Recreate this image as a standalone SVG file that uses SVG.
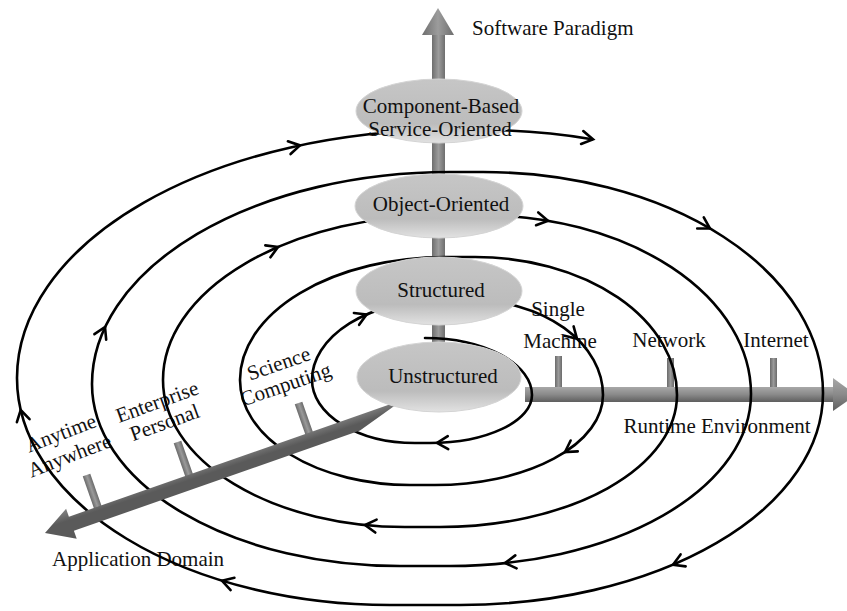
<svg xmlns="http://www.w3.org/2000/svg" xmlns:xlink="http://www.w3.org/1999/xlink" width="847" height="611" viewBox="0 0 847 611">
<style>
  .lbl { font-family: "Liberation Serif", "Times New Roman", serif; font-size: 21px; fill: #111; }
  .ell { fill: url(#ellG); stroke: #d4d4d4; stroke-width: 1; }
  .spiral { fill: none; stroke: #000; stroke-width: 2.6; stroke-linecap: round; stroke-linejoin: round; }
  .ah { fill: none; stroke: #000; stroke-width: 2.6; stroke-linecap: round; stroke-linejoin: miter; }
</style>
<defs>
  <linearGradient id="ellG" x1="0" y1="0" x2="0" y2="1">
    <stop offset="0" stop-color="#c6c6c6"/>
    <stop offset="0.7" stop-color="#bcbcbc"/>
    <stop offset="1" stop-color="#e2e2e2"/>
  </linearGradient>
  <linearGradient id="vShaft" x1="0" y1="0" x2="1" y2="0">
    <stop offset="0" stop-color="#6e6e6e"/>
    <stop offset="0.5" stop-color="#9c9c9c"/>
    <stop offset="1" stop-color="#6e6e6e"/>
  </linearGradient>
  <linearGradient id="hBar" x1="0" y1="0" x2="0" y2="1">
    <stop offset="0" stop-color="#a8a8a8"/>
    <stop offset="0.5" stop-color="#8a8a8a"/>
    <stop offset="1" stop-color="#5e5e5e"/>
  </linearGradient>
  <linearGradient id="tick" x1="0" y1="0" x2="1" y2="0">
    <stop offset="0" stop-color="#6a6a6a"/>
    <stop offset="0.5" stop-color="#9a9a9a"/>
    <stop offset="1" stop-color="#6a6a6a"/>
  </linearGradient>
  <linearGradient id="aBar" gradientUnits="userSpaceOnUse" x1="220" y1="450" x2="226" y2="468">
    <stop offset="0" stop-color="#9e9e9e"/>
    <stop offset="1" stop-color="#5a5a5a"/>
  </linearGradient>
  <path id="chev" class="ah" d="M-11,-6.5 L0,0 L-11,6.5"/>
</defs>

<!-- Software paradigm vertical arrow -->
<g id="paradigm-axis">
  <rect x="432" y="32" width="13" height="340" fill="url(#vShaft)"/>
  <polygon points="422,35 438,8 454,35" fill="url(#vShaft)"/>
</g>

<!-- Runtime environment axis -->
<g id="runtime-axis">
  <rect x="555" y="356" width="7" height="33" fill="url(#tick)"/>
  <rect x="667" y="358" width="7" height="31" fill="url(#tick)"/>
  <rect x="770" y="358" width="7" height="31" fill="url(#tick)"/>
  <rect x="525" y="387" width="310" height="15" fill="url(#hBar)"/>
  <polygon points="833,378 856,395 833,411" fill="url(#hBar)"/>
</g>

<!-- Labels -->
<g id="labels">
  <text class="lbl" x="472" y="35">Software Paradigm</text>
  <text class="lbl" x="558" y="316" text-anchor="middle">Single</text>
  <text class="lbl" x="560" y="348" text-anchor="middle">Machine</text>
  <text class="lbl" x="669" y="347" text-anchor="middle">Network</text>
  <text class="lbl" x="776" y="347" text-anchor="middle">Internet</text>
  <text class="lbl" x="717" y="433" text-anchor="middle">Runtime Environment</text>
  <text class="lbl" x="52" y="566">Application Domain</text>
  <text class="lbl" text-anchor="middle" transform="translate(288,391) rotate(-19)"><tspan x="0" y="-22">Science</tspan><tspan x="0" y="0">Computing</tspan></text>
  <text class="lbl" text-anchor="middle" transform="translate(167,429) rotate(-20)"><tspan x="0" y="-22">Enterprise</tspan><tspan x="0" y="0">Personal</tspan></text>
  <text class="lbl" text-anchor="middle" transform="translate(72,462) rotate(-21)"><tspan x="0" y="-24">Anytime</tspan><tspan x="0" y="0">Anywhere</tspan></text>
</g>

<!-- Spiral connector -->
<g id="connectors">
  <path class="spiral" d="M 425 338
    A 107 57 0 0 1 532 395
    A 102 48 0 0 1 430 443
    L 415 443
    A 103 63 0 0 1 312 380
    A 128 80 0 0 1 440 300
    L 470 300
    A 133 95 0 0 1 603 395
    A 168 90 0 0 1 435 485
    L 410 485
    A 170 105 0 0 1 240 380
    A 205 123 0 0 1 445 257
    L 475 257
    A 202 138 0 0 1 677 395
    A 237 132 0 0 1 440 527
    L 405 527
    A 242 147 0 0 1 163 380
    A 282 165 0 0 1 445 215
    L 480 215
    A 271 179 0 0 1 751 394
    A 301 172 0 0 1 450 566
    L 400 566
    A 308 182 0 0 1 92 384
    A 358 212 0 0 1 450 172
    L 483 172
    A 340 221 0 0 1 823 393
    A 363 212 0 0 1 460 605
    L 390 605
    A 373 227 0 0 1 17 378
    A 433 248 0 0 1 450 130
    L 483 130
    A 414 262 0 0 1 592 139.2"/>
  <use xlink:href="#chev" transform="translate(366.6,314.5) rotate(-23.6)"/>
  <use xlink:href="#chev" transform="translate(437,443) rotate(178)"/>
  <use xlink:href="#chev" transform="translate(577,338.7) rotate(44)"/>
  <use xlink:href="#chev" transform="translate(565,452) rotate(146.8)"/>
  <use xlink:href="#chev" transform="translate(278,247) rotate(-23.3)"/>
  <use xlink:href="#chev" transform="translate(365,525) rotate(185.8)"/>
  <use xlink:href="#chev" transform="translate(548,220.7) rotate(9.7)"/>
  <use xlink:href="#chev" transform="translate(105,327) rotate(-64.7)"/>
  <use xlink:href="#chev" transform="translate(505,563) rotate(174)"/>
  <use xlink:href="#chev" transform="translate(300,145.4) rotate(-11.9)"/>
  <use xlink:href="#chev" transform="translate(710,228.5) rotate(30.3)"/>
  <use xlink:href="#chev" transform="translate(673,564.7) rotate(157)"/>
  <use xlink:href="#chev" transform="translate(222,580.7) rotate(197)"/>
  <use xlink:href="#chev" transform="translate(20.7,410) rotate(-103.2)"/>
  <use xlink:href="#chev" transform="translate(593,139.4) rotate(9.9)"/>
</g>

<!-- Application domain axis -->
<g id="application-axis">
  <rect x="-4" y="-31.4" width="8" height="35" fill="url(#tick)" transform="translate(308.9,432.6) rotate(-19.3)"/>
  <rect x="-4" y="-34.6" width="8" height="38" fill="url(#tick)" transform="translate(188.9,474.7) rotate(-19.3)"/>
  <rect x="-4" y="-33.6" width="8" height="37" fill="url(#tick)" transform="translate(97.6,506.7) rotate(-19.3)"/>
  <polygon points="45,533 66.1,508.65 68.9,516.7 403,399.7 360,430.6 73.9,530.8 76.7,538.85" fill="url(#aBar)"/>
</g>

<!-- Paradigm nodes -->
<g id="node-component">
  <ellipse class="ell" cx="439" cy="111" rx="83" ry="32"/>
  <text class="lbl" x="441" y="113" text-anchor="middle">Component-Based</text>
  <text class="lbl" x="440" y="136" text-anchor="middle">Service-Oriented</text>
</g>
<g id="node-object">
  <ellipse class="ell" cx="439" cy="206" rx="84" ry="32"/>
  <text class="lbl" x="441" y="211" text-anchor="middle">Object-Oriented</text>
</g>
<g id="node-structured">
  <ellipse class="ell" cx="439" cy="291" rx="83" ry="34"/>
  <text class="lbl" x="441" y="297" text-anchor="middle">Structured</text>
</g>
<g id="node-unstructured">
  <ellipse class="ell" cx="439" cy="377" rx="82" ry="35"/>
  <text class="lbl" x="443" y="383" text-anchor="middle">Unstructured</text>
</g>
</svg>
